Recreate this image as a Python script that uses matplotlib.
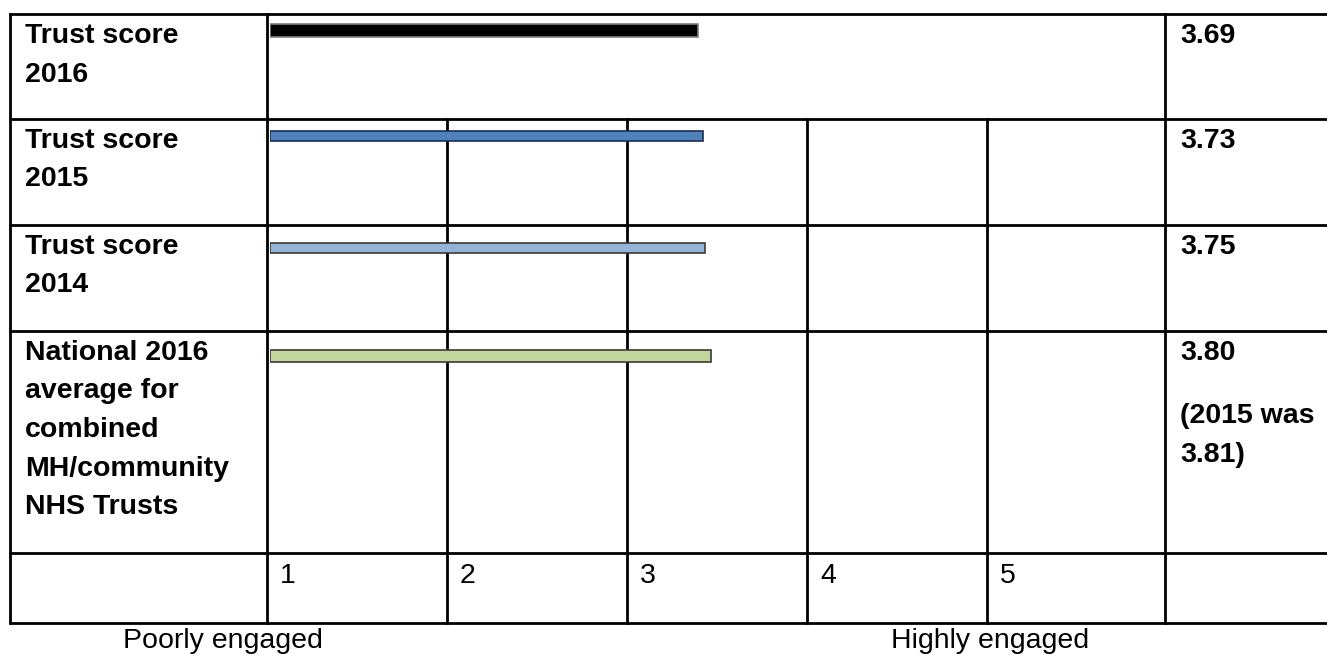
import matplotlib
matplotlib.use("Agg")
import matplotlib.pyplot as plt

# ---- data ----
row_labels = [
    ["Trust score", "2016"],
    ["Trust score", "2015"],
    ["Trust score", "2014"],
    ["National 2016", "average for", "combined", "MH/community", "NHS Trusts"],
]
scores = [3.69, 3.73, 3.75, 3.80]
score_texts = [["3.69"], ["3.73"], ["3.75"], ["3.80", "", "(2015 was", "3.81)"]]
scale_labels = ["1", "2", "3", "4", "5"]
end_labels = ["Poorly engaged", "Highly engaged"]

# ---- style ----
bar_colors = ["#000000", "#4F81BD", "#95B3D7", "#C3D69B"]
bar_edges = ["#7f7f7f", "#1f2f4f", "#3a3a3a", "#3a3a3a"]
W, H = 1327, 655
DPI = 100
FS = 20.5
plt.rcParams["font.family"] = ["Liberation Sans", "DejaVu Sans"]

fig = plt.figure(figsize=(W / DPI, H / DPI), dpi=DPI)
ax = fig.add_axes([0, 0, 1, 1])
ax.set_xlim(0, W)
ax.set_ylim(H, 0)
ax.axis("off")

# table geometry (pixels)
row_tops = [14, 119, 225, 331, 553, 623]
col_x = [10, 267, 447, 627, 807, 987, 1165]
lw = 2.0
for y in row_tops:
    ax.plot([9, W], [y, y], color="black", lw=lw, solid_capstyle="butt")
for i, x in enumerate(col_x):
    if i in (0, 1, 6):
        ax.plot([x, x], [row_tops[0], row_tops[-1]], color="black", lw=lw)
    else:
        ax.plot([x, x], [row_tops[1], row_tops[-1]], color="black", lw=lw)

# row labels and values
line_h = 38.5
for r, lines in enumerate(row_labels):
    base = row_tops[r] + 29
    for j, t in enumerate(lines):
        ax.text(25, base + j * line_h, t, fontsize=FS, fontweight="bold",
                va="baseline", ha="left")
for r, lines in enumerate(score_texts):
    base = row_tops[r] + 29
    offs = [0, 0, 63, 102]
    for j, t in enumerate(lines):
        if t:
            ax.text(1180, base + offs[j], t, fontsize=FS, fontweight="bold",
                    va="baseline", ha="left")

# scale numbers
for i, t in enumerate(scale_labels):
    ax.text(col_x[i + 1] + 13, 583, t, fontsize=FS, va="baseline", ha="left")

ax.text(123, 648, end_labels[0], fontsize=FS, va="baseline", ha="left")
ax.text(891, 648, end_labels[1], fontsize=FS, va="baseline", ha="left")

# ---- bars: value axis starting at the first scale column ----
px_per_unit = 116.0
x0, x1 = 270, 1165
bax = fig.add_axes([x0 / W, 0, (x1 - x0) / W, 1])
bax.set_xlim(0, (x1 - x0) / px_per_unit)
bax.set_ylim(H, 0)
bax.axis("off")
bar_centers = [30, 135.5, 248, 355.5]
bar_heights = [13, 10, 10, 12]
for i, v in enumerate(scores):
    bax.barh(bar_centers[i], v, height=bar_heights[i], left=0,
             color=bar_colors[i], edgecolor=bar_edges[i], linewidth=1.2)

fig.savefig("out.png", dpi=DPI)
